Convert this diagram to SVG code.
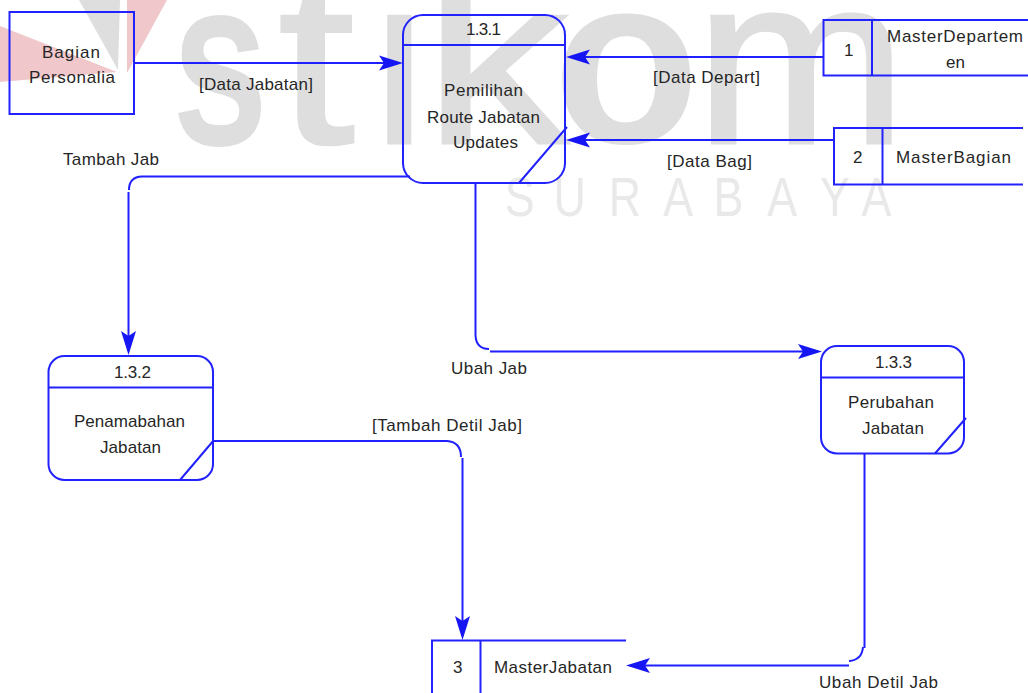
<svg xmlns="http://www.w3.org/2000/svg" width="1028" height="693" viewBox="0 0 1028 693">
<style>
.wb{font-family:"Liberation Sans",Arial,sans-serif;font-weight:700;font-size:240px;fill:#dedede}
.wr{font-family:"Liberation Sans",Arial,sans-serif;font-size:240px;fill:#dedede;stroke:#dedede;stroke-width:3}
.wm2{font-family:"Liberation Sans",Arial,sans-serif;font-size:56px;fill:#e9e9e9}
.s{fill:none;stroke:#2222ff;stroke-width:2}
.t{font-family:"Liberation Sans",Arial,sans-serif;font-size:17px;fill:#262626}
.c{fill:none;stroke:#1f1fff;stroke-width:2}
</style>
<defs>
<marker id="arrow" markerUnits="userSpaceOnUse" markerWidth="26" markerHeight="18" refX="20" refY="8" orient="auto">
<path d="M0 0.500L24 8L0 15.500L5 8Z" fill="#1616f5"/>
</marker>
</defs>
<rect width="1028" height="693" fill="#fff"/>
<g id="watermark">
<polygon points="0,26 117,72 0,82" fill="#f0c8cc"/>
<polygon points="79,0 120,0 118,70" fill="#dedede"/>
<polygon points="127,0 167,0 127,73" fill="#f0c8cc"/>
<text class="wb" transform="translate(172,145) scale(.72,1)">s</text>
<text class="wr" transform="translate(278,143) scale(1.15,1)">t</text>
<text class="wr" transform="translate(366,143)">ı</text>
<text class="wr" transform="translate(424,143) scale(1.2,1)">k</text>
<text class="wb" transform="translate(553,143)">o</text>
<text class="wr" transform="translate(695,143) scale(1.06,1)">m</text>
<text class="wm2" transform="scale(.8,1)" x="631 692 761 829 892 959 1025 1077" y="216">SURABAYA</text>
</g>
<g id="connectors">
<path class="c" d="M134 63H399" marker-end="url(#arrow)"/>
<path class="c" d="M823 57H570" marker-end="url(#arrow)"/>
<path class="c" d="M834 140H570" marker-end="url(#arrow)"/>
<path class="c" d="M410 176.500H142Q129 177 129 190"/>
<path class="c" d="M128.500 192V351" marker-end="url(#arrow)"/>
<path class="c" d="M475.500 183V335Q476 349 489 349"/>
<path class="c" d="M490 351.500H818" marker-end="url(#arrow)"/>
<path class="c" d="M213 441H447Q461 442 461 457"/>
<path class="c" d="M462.500 458V636" marker-end="url(#arrow)"/>
<path class="c" d="M864.500 454V648"/>
<path class="c" d="M863 647Q862 660 849 661"/>
<path class="c" d="M849 665.500H630" marker-end="url(#arrow)"/>
</g>
<g id="bagian-personalia">
<rect class="s" x="9.500" y="12" width="124.500" height="102"/>
<text class="t" x="42" y="58" textLength="58">Bagian</text>
<text class="t" x="29" y="83" textLength="86">Personalia</text>
</g>
<g id="process-1-3-1">
<rect class="s" x="403" y="15" width="162" height="168" rx="20"/>
<path class="s" d="M403 45H565M519 183L567 127"/>
<text class="t" x="466" y="35" textLength="35">1.3.1</text>
<text class="t" x="444" y="96" textLength="79">Pemilihan</text>
<text class="t" x="427" y="122.500" textLength="113">Route Jabatan</text>
<text class="t" x="453" y="148" textLength="65">Updates</text>
</g>
<g id="store-1">
<path class="s" d="M1028 20H823.500V75.500H1028M872 20V75.500"/>
<text class="t" x="844" y="56" textLength="9">1</text>
<text class="t" x="887" y="42" textLength="136">MasterDepartem</text>
<text class="t" x="946" y="68" textLength="19">en</text>
</g>
<g id="store-2">
<path class="s" d="M1023 128H834V184.500H1023M882.500 128V184.500"/>
<text class="t" x="853" y="163" textLength="9">2</text>
<text class="t" x="896" y="163" textLength="115">MasterBagian</text>
</g>
<g id="process-1-3-2">
<rect class="s" x="48.500" y="356" width="164.500" height="124" rx="16"/>
<path class="s" d="M48.500 387.500H213M180 480L214 440"/>
<text class="t" x="114" y="378" textLength="37">1.3.2</text>
<text class="t" x="74" y="427" textLength="111">Penamabahan</text>
<text class="t" x="100" y="452.500" textLength="61">Jabatan</text>
</g>
<g id="process-1-3-3">
<rect class="s" x="821" y="346" width="143" height="107.500" rx="16"/>
<path class="s" d="M821 377.500H964M935 453.500L966 418"/>
<text class="t" x="875" y="368" textLength="37">1.3.3</text>
<text class="t" x="848" y="408" textLength="86">Perubahan</text>
<text class="t" x="862" y="434" textLength="62">Jabatan</text>
</g>
<g id="store-3">
<path class="s" d="M626 640.500H432V693M480.500 640.500V693"/>
<text class="t" x="453" y="673" textLength="9">3</text>
<text class="t" x="494" y="673" textLength="118">MasterJabatan</text>
</g>
<g id="labels">
<text class="t" x="199" y="90" textLength="114">[Data Jabatan]</text>
<text class="t" x="653" y="83" textLength="107">[Data Depart]</text>
<text class="t" x="667" y="167" textLength="85">[Data Bag]</text>
<text class="t" x="63" y="165" textLength="96">Tambah Jab</text>
<text class="t" x="451" y="374" textLength="76">Ubah Jab</text>
<text class="t" x="372" y="431" textLength="150">[Tambah Detil Jab]</text>
<text class="t" x="819" y="688" textLength="119">Ubah Detil Jab</text>
</g>
</svg>
